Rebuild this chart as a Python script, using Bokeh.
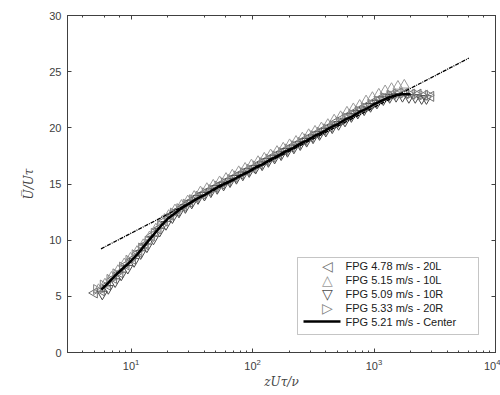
from bokeh.plotting import figure
from bokeh.models import (Range1d, FixedTicker, LogAxis, LinearAxis, CustomJSTickFormatter,
                          BoxAnnotation, Label, Arrow)
from bokeh.embed import file_html
from bokeh.resources import INLINE
import math

# ---- data ----
x_20L = [5.0, 5.7, 6.4, 7.2, 8.1, 9.1, 10.3, 11.6, 13.1, 14.8, 16.7, 18.8, 21.2, 23.9, 27, 30.4, 34.3, 38.7,
         43.6, 49.2, 55.5, 62.6, 70.6, 79.6, 89.8, 101, 114, 129, 145, 164, 185, 208, 235, 265, 299, 337, 380,
         429, 483, 545, 615, 693, 782, 882, 995, 1122, 1265, 1427, 1609, 1815, 2047, 2308, 2603, 2936]
y_20L = [5.3, 5.5, 6.0, 6.6, 7.1, 7.8, 8.3, 8.9, 9.6, 10.4, 11.0, 11.7, 12.2, 12.6, 13.0, 13.4, 13.8, 14.1,
         14.4, 14.7, 15.0, 15.3, 15.6, 15.9, 16.2, 16.4, 16.8, 17.1, 17.4, 17.7, 18.0, 18.3, 18.6, 18.9, 19.2,
         19.5, 19.8, 20.1, 20.5, 20.8, 21.1, 21.4, 21.7, 22.0, 22.3, 22.6, 22.8, 23.0, 23.1, 23.1, 23.0, 23.0,
         22.9, 22.8]

x_10L = [5.4, 6.1, 6.9, 7.8, 8.8, 9.9, 11.2, 12.6, 14.2, 16.0, 18.1, 20.4, 23.0, 26.0, 29.3, 33.1, 37.3, 42.1,
         47.5, 53.6, 60.5, 68.2, 77.0, 86.9, 98, 111, 125, 141, 159, 179, 202, 228, 257, 290, 327, 369, 417,
         470, 531, 599, 676, 762, 860, 970, 1095, 1235, 1394, 1573, 1775]
y_10L = [5.6, 6.1, 6.7, 7.3, 7.9, 8.4, 9.0, 9.6, 10.3, 11.0, 11.7, 12.2, 12.7, 13.1, 13.5, 13.9, 14.3, 14.6,
         14.9, 15.2, 15.5, 15.8, 16.1, 16.4, 16.7, 17.0, 17.3, 17.6, 17.9, 18.2, 18.5, 18.8, 19.1, 19.4, 19.7,
         20.0, 20.3, 20.7, 21.0, 21.4, 21.7, 22.0, 22.4, 22.7, 23.0, 23.3, 23.5, 23.7, 23.8]

x_10R = [5.8, 6.5, 7.4, 8.3, 9.4, 10.6, 12.0, 13.5, 15.3, 17.2, 19.4, 21.9, 24.8, 28.0, 31.6, 35.6, 40.2, 45.4,
         51.2, 57.8, 65.3, 73.7, 83.2, 93.9, 106, 120, 135, 152, 172, 194, 219, 247, 279, 315, 356, 401, 453,
         511, 577, 651, 735, 830, 936, 1057, 1193, 1346, 1520, 1715, 1936, 2185, 2466, 2700]
y_10R = [5.2, 5.7, 6.3, 6.9, 7.5, 8.1, 8.8, 9.4, 10.1, 10.8, 11.4, 12.0, 12.5, 12.9, 13.3, 13.7, 14.0, 14.3,
         14.6, 14.9, 15.2, 15.5, 15.8, 16.1, 16.4, 16.7, 17.0, 17.3, 17.6, 17.9, 18.2, 18.5, 18.8, 19.1, 19.4,
         19.7, 20.0, 20.3, 20.6, 21.0, 21.3, 21.6, 21.9, 22.2, 22.5, 22.7, 22.8, 22.8, 22.7, 22.7, 22.6, 22.6]

x_20R = [5.2, 5.9, 6.7, 7.5, 8.5, 9.6, 10.8, 12.2, 13.8, 15.5, 17.5, 19.8, 22.3, 25.2, 28.4, 32.1, 36.2, 40.8,
         46.1, 52.0, 58.7, 66.2, 74.7, 84.3, 95.1, 107, 121, 137, 155, 174, 197, 222, 251, 283, 319, 360, 407,
         459, 518, 584, 659, 744, 839, 947, 1069, 1206, 1361, 1536, 1733, 1956, 2207, 2490, 2810]
y_20R = [5.6, 6.0, 6.5, 7.0, 7.6, 8.2, 8.7, 9.3, 9.9, 10.6, 11.3, 11.9, 12.4, 12.8, 13.2, 13.6, 13.9, 14.2,
         14.5, 14.8, 15.1, 15.4, 15.7, 16.0, 16.3, 16.6, 16.9, 17.2, 17.5, 17.8, 18.1, 18.4, 18.7, 19.0, 19.3,
         19.6, 19.9, 20.2, 20.5, 20.9, 21.2, 21.5, 21.8, 22.1, 22.4, 22.7, 22.9, 23.0, 23.1, 23.0, 23.0, 22.9, 22.9]

x_center = [5.7, 6.5, 7.5, 8.6, 9.9, 11.4, 13.1, 15.1, 17.4, 20, 23, 26.5, 30.5, 35, 40, 46, 53, 61, 70, 81, 93,
            107, 123, 141, 162, 187, 215, 247, 284, 327, 376, 432, 497, 572, 658, 756, 870, 1000, 1150, 1320,
            1520, 1750, 2000]
y_center = [5.6, 6.2, 6.9, 7.5, 8.1, 8.8, 9.6, 10.4, 11.2, 11.9, 12.4, 12.9, 13.3, 13.7, 14.0, 14.4, 14.8, 15.1,
            15.4, 15.8, 16.1, 16.5, 16.8, 17.2, 17.5, 17.9, 18.2, 18.6, 18.9, 19.3, 19.6, 20.0, 20.3, 20.7, 21.0,
            21.4, 21.7, 22.1, 22.4, 22.7, 22.9, 23.0, 23.0]

x_loglaw = [5.66, 6030]
y_loglaw = [9.23, 26.2]

y_ticks = [0, 5, 10, 15, 20, 25, 30]

labels = ["FPG 4.78 m/s - 20L", "FPG 5.15 m/s - 10L", "FPG 5.09 m/s - 10R",
          "FPG 5.33 m/s - 20R", "FPG 5.21 m/s - Center"]
legend_symbols = ["◁", "△", "▽", "▷"]
colors = ["#6e6e6e", "#9a9a9a", "#4a4a4a", "#828282"]

# ---- figure ----
p = figure(width=500, height=395, x_axis_type="log", output_backend="svg", toolbar_location=None,
           x_range=Range1d(3, 10000), y_range=Range1d(0, 30),
           min_border_left=67, min_border_right=5, min_border_top=15, min_border_bottom=43)
p.grid.visible = False
p.outline_line_color = "#404040"
p.outline_line_width = 1
p.background_fill_color = "white"
p.border_fill_color = "white"

tick_font = "Liberation Sans"
for ax in p.xaxis:
    ax.axis_label = "zUτ/ν"
    ax.axis_label_text_font = "DejaVu Serif"
    ax.axis_label_text_font_style = "italic"
    ax.axis_label_text_font_size = "12px"
    ax.axis_label_standoff = 2
    ax.major_label_text_font = tick_font
    ax.major_label_text_font_size = "11px"
    ax.major_label_text_color = "#404040"
    ax.major_tick_in = 4
    ax.major_tick_out = 0
    ax.minor_tick_in = 2
    ax.minor_tick_out = 0
    ax.axis_line_color = "#404040"
    ax.major_tick_line_color = "#404040"
    ax.minor_tick_line_color = "#404040"
    ax.major_label_standoff = 6

for ax in p.yaxis:
    ax.ticker = FixedTicker(ticks=y_ticks)
    ax.axis_label = "U̅/Uτ"
    ax.axis_label_text_font = "DejaVu Serif"
    ax.axis_label_text_font_style = "italic"
    ax.axis_label_text_font_size = "12px"
    ax.axis_label_standoff = 10
    ax.major_label_text_font = tick_font
    ax.major_label_text_font_size = "11px"
    ax.major_label_text_color = "#404040"
    ax.major_tick_in = 4
    ax.major_tick_out = 0
    ax.minor_tick_line_color = None
    ax.axis_line_color = "#404040"
    ax.major_tick_line_color = "#404040"
    ax.major_label_standoff = 6

# mirrored axes (ticks only, empty labels)
blank = CustomJSTickFormatter(code="return '';")
top = LogAxis(formatter=blank, major_tick_in=4, major_tick_out=0,
              minor_tick_in=2, minor_tick_out=0, axis_line_color="#404040",
              major_tick_line_color="#404040", minor_tick_line_color="#404040", major_label_standoff=0)
p.add_layout(top, "above")
right = LinearAxis(ticker=FixedTicker(ticks=y_ticks), formatter=blank, major_tick_in=4,
                   major_tick_out=0, minor_tick_line_color=None, axis_line_color="#404040",
                   major_tick_line_color="#404040", major_label_standoff=0)
p.add_layout(right, "right")

msize = 10
p.scatter(x_20L, y_20L, marker="triangle", angle=math.pi / 2, size=msize,
          fill_color=None, line_color=colors[0], line_width=1)
p.scatter(x_10L, y_10L, marker="triangle", size=msize,
          fill_color=None, line_color=colors[1], line_width=1)
p.scatter(x_10R, y_10R, marker="inverted_triangle", size=msize,
          fill_color=None, line_color=colors[2], line_width=1)
p.scatter(x_20R, y_20R, marker="triangle", angle=-math.pi / 2, size=msize,
          fill_color=None, line_color=colors[3], line_width=1)
p.line(x_center, y_center, line_color="black", line_width=2.5)
p.line(x_loglaw, y_loglaw, line_color="black", line_width=1.3, line_dash="4 1 1 1")

# ---- legend drawn by hand (screen units, relative to the plot frame) ----
p.add_layout(BoxAnnotation(left=230, right=411, bottom=18, top=95,
                           left_units="screen", right_units="screen",
                           bottom_units="screen", top_units="screen",
                           fill_color="white", fill_alpha=1, line_color="#404040", line_width=1))
row_y = [87, 73, 59, 45, 31]
for i in range(4):
    p.add_layout(Label(x=260, y=row_y[i], x_units="screen", y_units="screen", text=legend_symbols[i],
                       text_align="center", text_baseline="middle", text_font="DejaVu Sans",
                       text_font_size="14px", text_color=colors[i]))
p.add_layout(Arrow(x_start=236, y_start=row_y[4], x_end=273, y_end=row_y[4],
                   start_units="screen", end_units="screen", end=None,
                   line_color="black", line_width=2.5))
for i in range(5):
    p.add_layout(Label(x=278, y=row_y[i], x_units="screen", y_units="screen", text=labels[i],
                       text_align="left", text_baseline="middle", text_font=tick_font,
                       text_font_size="11px", text_color="#202020"))

open("out.html", "w").write(file_html(p, INLINE))
